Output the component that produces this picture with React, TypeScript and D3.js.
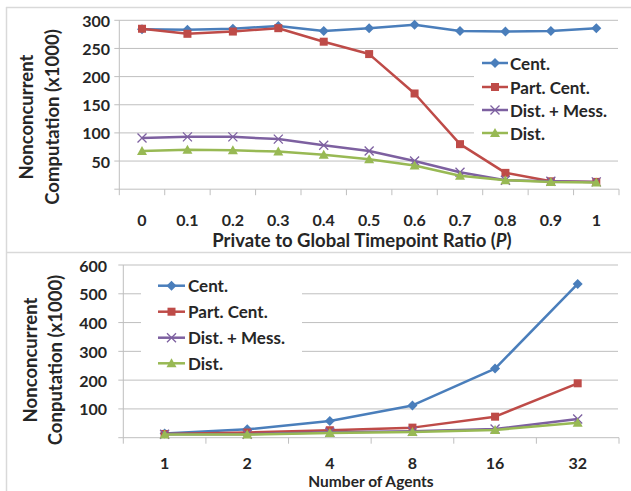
import React from "react";
import * as d3 from "d3";

const seriesNames = ["Cent.", "Part. Cent.", "Dist. + Mess.", "Dist."];
const colors = ["#4A7EBB", "#BE4B48", "#7D60A0", "#98B954"];
const markers = ["diamond", "square", "cross", "triangle"];

const topCategories = ["0", "0.1", "0.2", "0.3", "0.4", "0.5", "0.6", "0.7", "0.8", "0.9", "1"];
const topCent = [284, 283, 285, 290, 281, 286, 292, 281, 280, 281, 286];
const topPart = [285, 276, 280, 286, 262, 240, 170, 80, 29, 14, 13];
const topDistMess = [91, 93, 93, 89, 78, 68, 50, 30, 16, 14, 13];
const topDist = [68, 70, 69, 67, 61, 53, 42, 24, 16, 13, 12];
const topTicks = [50, 100, 150, 200, 250, 300];

const botCategories = ["1", "2", "4", "8", "16", "32"];
const botCent = [15, 29, 58, 112, 240, 534];
const botPart = [13, 18, 26, 35, 73, 189];
const botDistMess = [12, 12, 19, 22, 30, 65];
const botDist = [11, 11, 16, 20, 27, 52];
const botTicks = [100, 200, 300, 400, 500, 600];

const FONT = "Lato, 'Open Sans', sans-serif";
const GRID = "#BFBFBF";

function Marker({ type, x, y, color }: { type: string; x: number; y: number; color: string }) {
  if (type === "diamond") {
    const s = 5;
    return <path d={`M${x},${y - s}L${x + s},${y}L${x},${y + s}L${x - s},${y}Z`} fill={color} />;
  }
  if (type === "square") {
    const s = 4;
    return <rect x={x - s} y={y - s} width={2 * s} height={2 * s} fill={color} />;
  }
  if (type === "cross") {
    const s = 4.5;
    return (
      <path d={`M${x - s},${y - s}L${x + s},${y + s}M${x - s},${y + s}L${x + s},${y - s}`} stroke={color} strokeWidth={1.3} fill="none" />
    );
  }
  const s = 5;
  return <path d={`M${x},${y - s}L${x + s},${y + s * 0.8}L${x - s},${y + s * 0.8}Z`} fill={color} />;
}

type PanelProps = {
  categories: string[];
  series: number[][];
  ticks: number[];
  yMax: number;
  left: number;
  right: number;
  yTopPx: number;
  y0Px: number;
  tickLabelX: number;
  xLabelY: number;
  legendBox: [number, number, number, number];
  legendLineX: [number, number];
  legendTextX: number;
  legendRows: number[];
  yTitles: [string, string];
  yTitleX: [number, number];
  yTitleY: number;
  xTitle: React.ReactNode;
  xTitleX: number;
  xTitleY: number;
  xTitleSize: number;
};

function Panel(p: PanelProps) {
  const x = d3.scaleBand<string>().domain(p.categories).range([p.left, p.right]);
  const y = d3.scaleLinear().domain([0, p.yMax]).range([p.y0Px, p.yTopPx]);
  const line = d3
    .line<number>()
    .x((_, i) => (x(p.categories[i]) as number) + x.bandwidth() / 2)
    .y((v) => y(v));
  const bounds = [...p.categories.map((c) => x(c) as number), p.right];
  return (
    <g>
      {p.ticks.map((t) => (
        <line key={"g" + t} x1={p.left - 5} x2={p.right - 1} y1={y(t)} y2={y(t)} stroke={GRID} strokeWidth={1} />
      ))}
      <line x1={p.left} x2={p.left} y1={p.yTopPx} y2={p.y0Px} stroke={GRID} strokeWidth={1} />
      <line x1={p.left - 5} x2={p.right} y1={p.y0Px} y2={p.y0Px} stroke={GRID} strokeWidth={1} />
      {bounds.map((b, i) => (
        <line key={"t" + i} x1={b} x2={b} y1={p.y0Px} y2={p.y0Px + 6} stroke={GRID} strokeWidth={1} />
      ))}
      {p.ticks.map((t) => (
        <text key={"l" + t} x={p.tickLabelX} y={y(t)} textAnchor="end" dominantBaseline="central" fontSize={16} fontWeight={700} fill="#262626" fontFamily={FONT}>
          {t}
        </text>
      ))}
      {p.categories.map((c) => (
        <text key={"c" + c} x={(x(c) as number) + x.bandwidth() / 2} y={p.xLabelY} textAnchor="middle" dominantBaseline="central" fontSize={16} fontWeight={700} fill="#262626" fontFamily={FONT}>
          {c}
        </text>
      ))}
      <rect x={p.legendBox[0]} y={p.legendBox[1]} width={p.legendBox[2]} height={p.legendBox[3]} fill="#fff" />
      {p.series.map((s, si) => (
        <g key={"s" + si}>
          <path d={line(s) || ""} fill="none" stroke={colors[si]} strokeWidth={2.5} strokeLinejoin="round" />
          {s.map((v, i) => (
            <Marker key={i} type={markers[si]} x={(x(p.categories[i]) as number) + x.bandwidth() / 2} y={y(v)} color={colors[si]} />
          ))}
        </g>
      ))}
      {seriesNames.map((n, i) => (
        <g key={"lg" + i}>
          <line x1={p.legendLineX[0]} x2={p.legendLineX[1]} y1={p.legendRows[i]} y2={p.legendRows[i]} stroke={colors[i]} strokeWidth={2.5} />
          <Marker type={markers[i]} x={(p.legendLineX[0] + p.legendLineX[1]) / 2} y={p.legendRows[i]} color={colors[i]} />
          <text x={p.legendTextX} y={p.legendRows[i]} dominantBaseline="central" fontSize={17} fontWeight={700} fill="#262626" fontFamily={FONT}>
            {n}
          </text>
        </g>
      ))}
      {p.yTitles.map((t, i) => (
        <text key={"yt" + i} transform={`translate(${p.yTitleX[i]},${p.yTitleY}) rotate(-90)`} textAnchor="middle" dominantBaseline="central" fontSize={18.5} fontWeight={700} fill="#262626" fontFamily={FONT}>
          {t}
        </text>
      ))}
      <text x={p.xTitleX} y={p.xTitleY} textAnchor="middle" dominantBaseline="central" fontSize={p.xTitleSize} fontWeight={700} fill="#262626" fontFamily={FONT}>
        {p.xTitle}
      </text>
    </g>
  );
}

export default function App() {
  return (
    <svg width={631} height={491} style={{ position: "absolute", left: 0, top: 0, background: "#fff" }}>
      <rect x={0} y={0} width={631} height={491} fill="#fff" />
      <line x1={6} x2={631} y1={7.5} y2={7.5} stroke="#D9D9D9" strokeWidth={1.5} />
      <line x1={6.5} x2={6.5} y1={7} y2={491} stroke="#D9D9D9" strokeWidth={1.5} />
      <line x1={6} x2={631} y1={252.5} y2={252.5} stroke="#D9D9D9" strokeWidth={1.5} />
      <Panel
        categories={topCategories}
        series={[topCent, topPart, topDistMess, topDist]}
        ticks={topTicks}
        yMax={300}
        left={119.3}
        right={619}
        yTopPx={20.3}
        y0Px={189.2}
        tickLabelX={110}
        xLabelY={219}
        legendBox={[474, 52, 146, 94]}
        legendLineX={[482, 508]}
        legendTextX={510}
        legendRows={[63, 87, 110, 133]}
        yTitles={["Nonconcurrent", "Computation (x1000)"]}
        yTitleX={[26, 52]}
        yTitleY={117}
        xTitle={
          <>
            Private to Global Timepoint Ratio (<tspan fontStyle="italic">P</tspan>)
          </>
        }
        xTitleX={362}
        xTitleY={240}
        xTitleSize={18.5}
      />
      <Panel
        categories={botCategories}
        series={[botCent, botPart, botDistMess, botDist]}
        ticks={botTicks}
        yMax={600}
        left={123.3}
        right={619}
        yTopPx={265}
        y0Px={437.7}
        tickLabelX={107}
        xLabelY={462}
        legendBox={[141, 272, 161, 100]}
        legendLineX={[158, 185]}
        legendTextX={188}
        legendRows={[285.7, 311.7, 337.7, 363.3]}
        yTitles={["Nonconcurrent", "Conputation (x1000)"]}
        yTitleX={[30, 55]}
        yTitleY={360}
        xTitle="Number of Agents"
        xTitleX={371}
        xTitleY={480.5}
        xTitleSize={15.5}
      />
    </svg>
  );
}
